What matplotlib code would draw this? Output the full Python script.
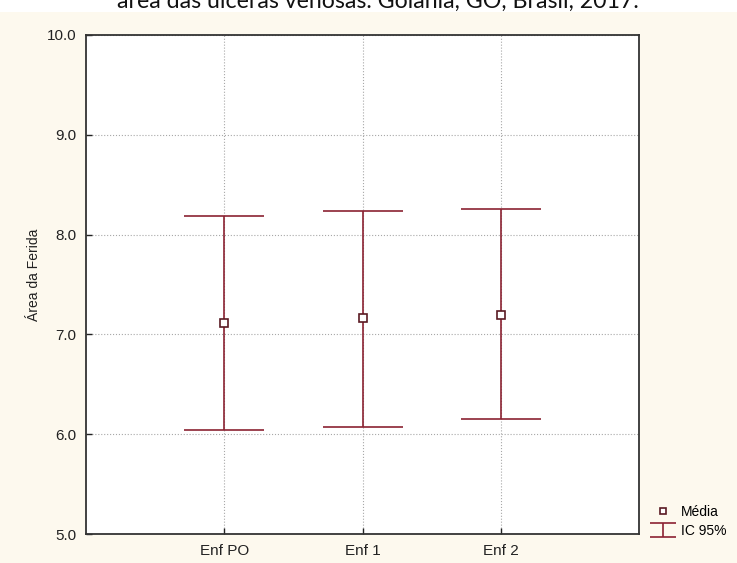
import numpy as np
import matplotlib
matplotlib.use('Agg')
import matplotlib.pyplot as plt
from matplotlib.patches import Rectangle

# data
groups = ['Enf PO', 'Enf 1', 'Enf 2']
means = [7.11, 7.16, 7.19]
ci_low = [6.04, 6.07, 6.15]
ci_high = [8.19, 8.24, 8.26]
yticks = [5.0, 6.0, 7.0, 8.0, 9.0, 10.0]

title = 'área das úlceras venosas. Goiânia, GO, Brasil, 2017.'
red = '#8b2232'
cream = '#fdf9ee'

plt.rcParams['font.family'] = ['Liberation Sans', 'DejaVu Sans']

fig = plt.figure(figsize=(7.37, 5.63), dpi=100, facecolor='white')
# cream panel below the (cut) title strip
fig.patches.append(Rectangle((0, 0), 1, 1 - 12 / 563, transform=fig.transFigure,
                             facecolor=cream, edgecolor='none', zorder=-10))

ax = fig.add_axes([86 / 737, 1 - 534 / 563, (639 - 86) / 737, (534 - 35) / 563])
ax.set_facecolor('white')

x = np.arange(1, len(groups) + 1)
m = np.array(means)
lo = m - np.array(ci_low)
hi = np.array(ci_high) - m

ax.errorbar(x, m, yerr=[lo, hi], fmt='none', ecolor=red, elinewidth=1.2,
            capsize=28.5, capthick=1.2, zorder=3)
ax.plot(x, m, ls='none', marker='s', ms=5.5, mfc='white', mec='#5a1a22',
        mew=1.2, zorder=4)

ax.set_xlim(0, 4)
ax.set_ylim(5, 10)
ax.set_xticks(x)
ax.set_xticklabels(groups)
ax.set_yticks(yticks)
ax.set_yticklabels(['%.1f' % v for v in yticks])
ax.tick_params(direction='in', length=4, width=1, labelsize=11, colors='#222222', pad=7)
ax.grid(True, ls=':', color='#a8a8a8', lw=0.8)
ax.set_axisbelow(True)
for s in ax.spines.values():
    s.set_linewidth(1.3)
    s.set_color('#333333')

ax.set_ylabel('Área da Ferida', fontsize=10, color='#222222')
ax.yaxis.set_label_coords(-0.082, 0.52)

# legend proxies
h_mean, = ax.plot([], [], ls='none', marker='s', ms=5, mfc='white', mec='#5a1a22',
                  mew=1.2, label='Média')
h_ci = ax.errorbar([np.nan], [np.nan], yerr=[0], fmt='none', ecolor=red,
                   elinewidth=1.2, capsize=9.5, capthick=1.2, label='IC 95%')
fig.legend(handles=[h_mean, h_ci], loc='lower left',
           bbox_to_anchor=(650 / 737, 1 - 538 / 563), frameon=False,
           fontsize=10, handlelength=1.8, handletextpad=0.4, labelspacing=0.35,
           borderaxespad=0, borderpad=0)

fig.text(378 / 737, 1 - 8 / 563, title, ha='center', va='baseline',
         fontsize=16.7, family=['Lato', 'DejaVu Sans'], color='#111111')

fig.savefig('out.png', dpi=100, facecolor=fig.get_facecolor())
